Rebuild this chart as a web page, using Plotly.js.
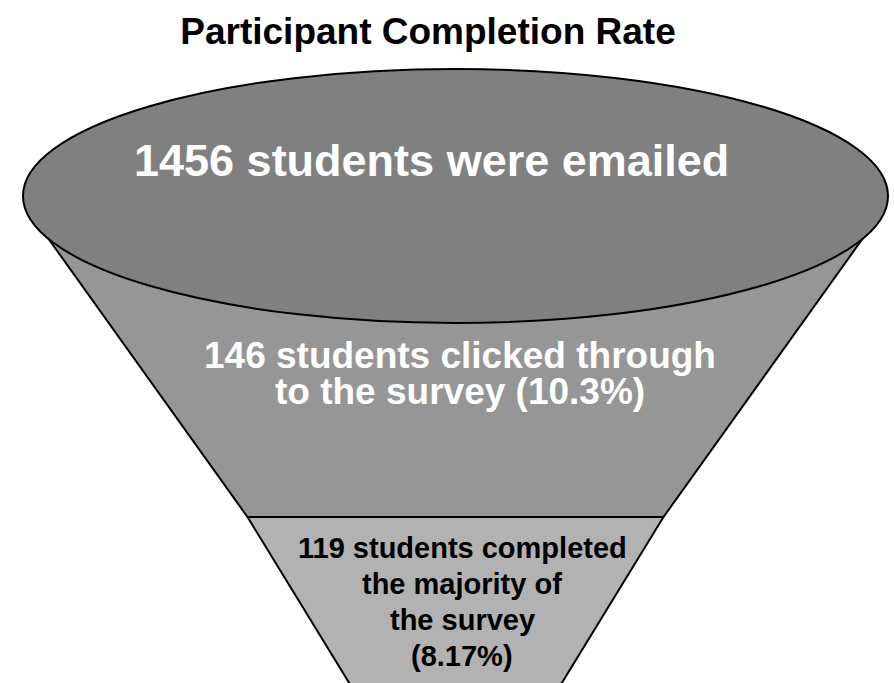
<!DOCTYPE html>
<html>
<head>
<meta charset="utf-8">
<script src="https://cdn.plot.ly/plotly-3.0.1.min.js"></script>
<style>
  html, body { margin: 0; padding: 0; background: #ffffff; }
  #chart { width: 894px; height: 683px; }
</style>
</head>
<body>
<div id="chart"></div>
<script>
// Funnel stages and their counts
const stageLines = [
  ['were emailed'],
  ['clicked through', 'to the survey'],
  ['completed', 'the majority of', 'the survey']
];
const students = [1456, 146, 119];
const shareText = ['', '10.3%', '8.17%'];

// Drawing geometry (pixel-like units on a 894 x 683 canvas)
const W = 894, H = 683;
const cx = 455.5;
const rim = { x0: 23, x1: 888, y0: 69, y1: 323 };   // mouth of the funnel
const upper = { yTop: 229, yBot: 517, halfTop: 414, halfBot: 208 };
const lower = { yTop: 517, yBot: 690, halfTop: 208, halfBot: 102 };
const fills = ['#808080', '#969696', '#b2b2b2'];
const FONT = 'Liberation Sans, Arial, Helvetica, sans-serif';

function trapezoid(seg, color) {
  return {
    type: 'scatter', mode: 'lines', fill: 'toself', fillcolor: color,
    x: [cx - seg.halfTop, cx + seg.halfTop, cx + seg.halfBot, cx - seg.halfBot, cx - seg.halfTop],
    y: [seg.yTop, seg.yTop, seg.yBot, seg.yBot, seg.yTop],
    line: { color: '#000000', width: 2 },
    hoverinfo: 'skip', showlegend: false
  };
}

const traces = [trapezoid(upper, fills[1]), trapezoid(lower, fills[2])];

// Text lines of each stage, one annotation per line
const stageText = [
  [`${students[0]} students ${stageLines[0][0]}`],
  [`${students[1]} students ${stageLines[1][0]}`, `${stageLines[1][1]} (${shareText[1]})`],
  [`${students[2]} students ${stageLines[2][0]}`, stageLines[2][1], stageLines[2][2], `(${shareText[2]})`]
];
const textStyle = [
  { x: 431, y0: 160, step: 0, size: 45, color: '#ffffff' },
  { x: 460, y0: 355, step: 36, size: 37, color: '#ffffff' },
  { x: 462, y0: 548, step: 36, size: 29, color: '#000000' }
];

const annotations = [];
stageText.forEach((lines, i) => {
  const st = textStyle[i];
  lines.forEach((line, j) => {
    annotations.push({
      x: st.x, y: st.y0 + j * st.step, xref: 'x', yref: 'y',
      text: `<b>${line}</b>`, showarrow: false,
      xanchor: 'center', yanchor: 'middle',
      font: { family: FONT, size: st.size, color: st.color }
    });
  });
});

const layout = {
  width: W, height: H,
  margin: { l: 0, r: 0, t: 0, b: 0 },
  paper_bgcolor: '#ffffff', plot_bgcolor: '#ffffff',
  showlegend: false,
  title: {
    text: '<b>Participant Completion Rate</b>',
    font: { family: FONT, size: 37, color: '#000000' },
    x: 428 / W, xanchor: 'center', xref: 'container',
    y: 1 - 31 / H, yanchor: 'middle', yref: 'container'
  },
  xaxis: { range: [0, W], visible: false, fixedrange: true },
  yaxis: { range: [H, 0], visible: false, fixedrange: true },
  shapes: [{
    type: 'circle', xref: 'x', yref: 'y', layer: 'above',
    x0: rim.x0, x1: rim.x1, y0: rim.y0, y1: rim.y1,
    fillcolor: fills[0], line: { color: '#000000', width: 2 }
  }],
  annotations: annotations
};

Plotly.newPlot('chart', traces, layout, { staticPlot: true, displayModeBar: false });
</script>
</body>
</html>
